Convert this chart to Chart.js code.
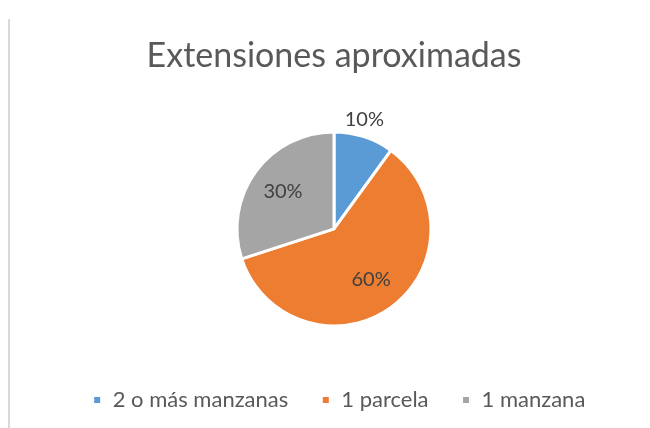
<!DOCTYPE html>
<html>
<head>
<meta charset="utf-8">
<script src="https://cdn.jsdelivr.net/npm/chart.js@4/dist/chart.umd.min.js"></script>
<style>
  html, body { margin: 0; padding: 0; background: #fff; }
  #wrap { position: relative; width: 650px; height: 428px; overflow: hidden; }
  #frame { position: absolute; left: 8px; top: 19px; width: 2px; height: 409px; background: #d9d9d9; }
  canvas { position: absolute; left: 0; top: 0; }
</style>
</head>
<body>
<div id="wrap">
  <div id="frame"></div>
  <canvas id="chart" width="650" height="428"></canvas>
</div>
<script>
const chartTitle = 'Extensiones aproximadas';
const categories = ['2 o más manzanas', '1 parcela', '1 manzana'];
const values = [10, 60, 30];
const colors = ['#5B9BD5', '#ED7D31', '#A5A5A5'];

// label distance from centre, as a share of the radius (first one sits outside)
const labelRadius = [1.18, 0.65, 0.65];

const pieLabels = {
  id: 'pieLabels',
  afterDatasetsDraw(chart) {
    const ctx = chart.ctx;
    const total = values.reduce((a, b) => a + b, 0);
    ctx.save();
    ctx.font = '20px Lato';
    ctx.fillStyle = '#404040';
    ctx.textAlign = 'center';
    ctx.textBaseline = 'middle';
    chart.getDatasetMeta(0).data.forEach((arc, i) => {
      const p = arc.getProps(['x', 'y', 'startAngle', 'endAngle', 'outerRadius'], true);
      const mid = (p.startAngle + p.endAngle) / 2;
      const r = p.outerRadius * labelRadius[i];
      const txt = Math.round(values[i] / total * 100) + '%';
      // outside label hugs the top a little more, like excel's best fit
      const dx = i === 0 ? -5 : 0;
      ctx.fillText(txt, p.x + Math.cos(mid) * r + dx, p.y + Math.sin(mid) * r);
    });
    ctx.restore();
  }
};

// nudge the legend to where excel had it
const moveLegend = {
  id: 'moveLegend',
  afterLayout(chart) {
    const lg = chart.legend;
    lg.left += 5; lg.right += 5;
    lg.top -= 7; lg.bottom -= 7;
  }
};

new Chart(document.getElementById('chart'), {
  type: 'pie',
  data: {
    labels: categories,
    datasets: [{
      data: values,
      backgroundColor: colors,
      borderColor: '#ffffff',
      borderWidth: 3,
      radius: 97
    }]
  },
  options: {
    responsive: false,
    animation: false,
    layout: { padding: { left: 18, right: 0, top: 0, bottom: 0 } },
    plugins: {
      title: {
        display: true,
        text: chartTitle,
        color: '#595959',
        font: { family: 'Lato', size: 34, weight: 'normal' },
        padding: { top: 36, bottom: 18 }
      },
      legend: {
        position: 'bottom',
        labels: {
          color: '#595959',
          font: { family: 'Lato', size: 22 },
          boxWidth: 9,
          boxHeight: 9,
          padding: 33
        }
      },
      tooltip: { enabled: false }
    }
  },
  plugins: [pieLabels, moveLegend]
});
</script>
</body>
</html>
